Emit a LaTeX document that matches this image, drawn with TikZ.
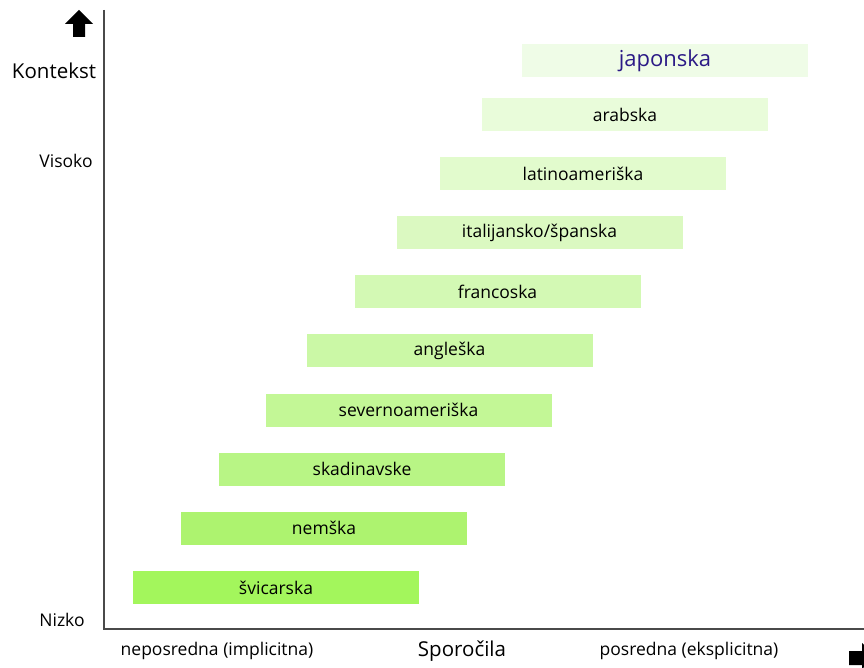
\documentclass[tikz,border=0pt]{standalone}
\usepackage{fontspec}
\setmainfont{Open Sans}
\definecolor{c1}{HTML}{A3F65C}
\definecolor{c2}{HTML}{ADF36F}
\definecolor{c3}{HTML}{B8F585}
\definecolor{c4}{HTML}{C3F796}
\definecolor{c5}{HTML}{CBF8A6}
\definecolor{c6}{HTML}{D3F9B4}
\definecolor{c7}{HTML}{DBF9C1}
\definecolor{c8}{HTML}{E2FBCD}
\definecolor{c9}{HTML}{E9FCDA}
\definecolor{c10}{HTML}{EFFCE7}
\definecolor{jtext}{HTML}{2B1A86}
\definecolor{axisgray}{HTML}{4A4A4A}
\tikzset{
  bar/.style={minimum width=286pt, minimum height=33pt, inner sep=0pt, draw=none, font=\fontsize{17.5}{20}\selectfont},
  axislabel/.style={inner sep=0pt, font=\fontsize{17.5}{20}\selectfont},
  biglabel/.style={inner sep=0pt, font=\fontsize{20.5}{24}\selectfont},
  axisline/.style={draw=axisgray, line width=1.6pt},
}
\begin{document}
\begin{tikzpicture}[x=1pt,y=-1pt]
\useasboundingbox (0,0) rectangle (864,668);
% axes
\coordinate (ytop) at (104,10);
\coordinate (orig) at (104,629);
\coordinate (xend) at (866,629);
\draw[axisline] (ytop) -- (orig) -- (xend);
% up arrow
\fill[black] (79,10) -- (93,24) -- (85,24) -- (85,37) -- (73,37) -- (73,24) -- (65,24) -- cycle;
% right arrow (cut off)
\fill[black] (849,651) -- (862,651) -- (862,643) -- (876,656) -- (862,669) -- (862,665) -- (849,665) -- cycle;
% axis labels
\node[biglabel] (kontekst) at (54,71) {Kontekst};
\node[axislabel] (visoko) at (66,161) {Visoko};
\node[axislabel] (nizko) at (62,620) {Nizko};
\node[axislabel] (nepos) at (217,651) {neposredna (implicitna)};
\node[biglabel] (sporocila) at (462,651) {Sporočila};
\node[axislabel] (posr) at (689,651) {posredna (eksplicitna)};
% bars
\node[bar, fill=c10, text=jtext, font=\fontsize{22}{26}\selectfont] (jap) at (665,60.5) {japonska};
\node[bar, fill=c9] (arab) at (625,114.5) {arabska};
\node[bar, fill=c8] (latino) at (583,173.5) {latinoameriška};
\node[bar, fill=c7] (ital) at (539.5,232.5) {italijansko/španska};
\node[bar, fill=c6] (franc) at (497.5,291.5) {francoska};
\node[bar, fill=c5] (angl) at (449.5,350.5) {angleška};
\node[bar, fill=c4] (sevam) at (408.5,410) {severnoameriška};
\node[bar, fill=c3] (skad) at (362,469) {skadinavske};
\node[bar, fill=c2] (nem) at (324,528) {nemška};
\node[bar, fill=c1] (svic) at (276,587.5) {švicarska};
\end{tikzpicture}
\end{document}
